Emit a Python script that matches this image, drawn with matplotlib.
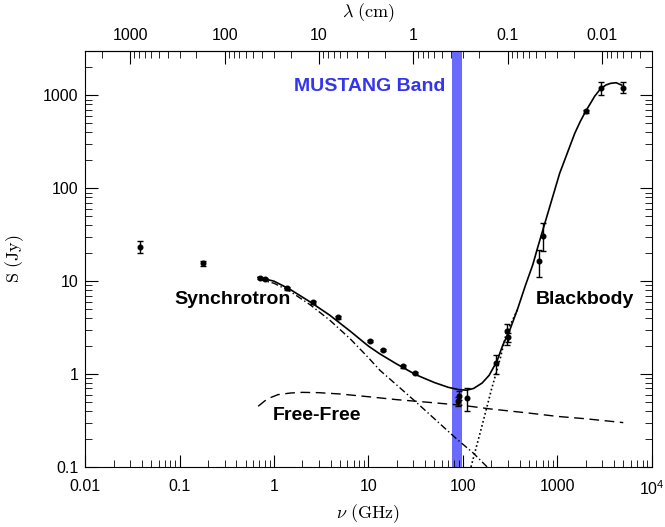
import numpy as np
import matplotlib
matplotlib.use("Agg")
import matplotlib.pyplot as plt
from matplotlib.ticker import FixedLocator, FixedFormatter, LogLocator, NullFormatter

plt.rcParams['font.family'] = ['Liberation Sans', 'DejaVu Sans']
plt.rcParams['mathtext.fontset'] = 'cm'

# measured flux densities (GHz, Jy) with lower / upper error bars
nu_pts = [0.038, 0.178, 0.71, 0.80, 1.37, 2.59, 4.76, 10.4, 14.2, 23.2, 31,
          88, 90, 110, 223, 290, 300, 637, 703, 2000, 2890, 4930]
s_pts = [23.5, 15.5, 10.8, 10.6, 8.4, 5.9, 4.1, 2.26, 1.81, 1.21, 1.02,
         0.51, 0.58, 0.55, 1.31, 2.9, 2.5, 16.4, 31, 675, 1190, 1210]
s_lo = [3.2, 0.8, 0.3, 0.3, 0.3, 0.2, 0.15, 0.05, 0.05, 0.04, 0.03,
        0.06, 0.06, 0.15, 0.31, 0.85, 0.3, 5.4, 10, 30, 170, 160]
s_hi = [3.8, 0.8, 0.3, 0.3, 0.3, 0.2, 0.15, 0.05, 0.05, 0.04, 0.03,
        0.06, 0.07, 0.16, 0.29, 0.6, 0.3, 5.1, 11, 30, 190, 190]

# model curves
nu_total = [0.68, 1.0, 1.47, 2.4, 3.9, 6.4, 10, 13.2, 20, 32, 50, 70, 90, 110,
            130, 160, 190, 230, 265, 314, 382, 460, 550, 620, 700, 850, 1060,
            1250, 1530, 1750, 2000, 2490, 2890, 3300, 3680, 4200, 4820]
s_total = [11.0, 10.0, 8.2, 6.0, 4.3, 2.9, 2.0, 1.65, 1.28, 0.98, 0.81, 0.72,
           0.68, 0.67, 0.70, 0.80, 0.97, 1.38, 2.05, 2.97, 5.1, 9.0, 15, 23,
           35, 68, 145, 226, 390, 523, 675, 980, 1190, 1300, 1350, 1370, 1290]

nu_sync = [0.68, 1.0, 1.47, 2.4, 3.9, 6.4, 10, 13.2, 20, 32.6, 50, 86, 130, 190]
s_sync = [10.5, 9.5, 7.8, 5.6, 3.8, 2.4, 1.5, 1.1, 0.76, 0.49, 0.33, 0.20,
          0.14, 0.095]

nu_ff = [0.68, 0.85, 1.1, 1.5, 2, 3, 5, 10, 20, 50, 100, 200, 500, 1000,
         2000, 5000]
s_ff = [0.45, 0.54, 0.60, 0.625, 0.635, 0.63, 0.61, 0.57, 0.53, 0.49, 0.46,
        0.42, 0.38, 0.35, 0.33, 0.30]

nu_bb = [122, 160, 200, 250, 290, 340, 382]
s_bb = [0.1, 0.28, 0.67, 1.5, 2.8, 3.9, 5.0]

band = (76, 98)

fig = plt.figure(figsize=(6.65, 5.27), dpi=100)
ax = fig.add_axes([0.128, 0.114, 0.852, 0.789])

ax.axvspan(band[0], band[1], color='#6a6aff', zorder=1, lw=0)

ax.plot(nu_total, s_total, color='black', lw=1.2, zorder=3)
ax.plot(nu_sync, s_sync, color='black', lw=1.0, dashes=(5, 2, 1, 2), zorder=3)
ax.plot(nu_ff, s_ff, color='black', lw=1.0, dashes=(7, 4), zorder=3)
ax.plot(nu_bb, s_bb, color='black', lw=1.2, dashes=(1, 1.5), zorder=3)

ax.errorbar(nu_pts, s_pts, yerr=[s_lo, s_hi], fmt='o', color='black',
            ms=3.3, capsize=2.5, elinewidth=1.0, capthick=1.0, zorder=4)

ax.set_xscale('log')
ax.set_yscale('log')
ax.set_xlim(0.01, 1e4)
ax.set_ylim(0.1, 3000)

ax.xaxis.set_major_locator(FixedLocator([0.01, 0.1, 1, 10, 100, 1000, 1e4]))
ax.xaxis.set_major_formatter(FixedFormatter(['0.01', '0.1', '1', '10', '100',
                                             '1000', r'$\mathregular{10^4}$']))
ax.xaxis.set_minor_locator(LogLocator(base=10, subs=np.arange(2, 10)))
ax.xaxis.set_minor_formatter(NullFormatter())
ax.yaxis.set_major_locator(FixedLocator([0.1, 1, 10, 100, 1000]))
ax.yaxis.set_major_formatter(FixedFormatter(['0.1', '1', '10', '100', '1000']))
ax.yaxis.set_minor_locator(LogLocator(base=10, subs=np.arange(2, 10)))
ax.yaxis.set_minor_formatter(NullFormatter())

ax.tick_params(which='both', direction='in', right=True, labelsize=11.5)
ax.tick_params(axis='x', which='both', top=False, pad=9)
ax.tick_params(axis='y', which='both', pad=5)
ax.tick_params(which='major', length=9)
ax.tick_params(which='minor', length=5)

top = ax.secondary_xaxis('top', functions=(lambda v: 30.0 / v, lambda l: 30.0 / l))
top.xaxis.set_major_locator(FixedLocator([1000, 100, 10, 1, 0.1, 0.01]))
top.xaxis.set_major_formatter(FixedFormatter(['1000', '100', '10', '1', '0.1', '0.01']))
top.xaxis.set_minor_locator(LogLocator(base=10, subs=np.arange(2, 10)))
top.xaxis.set_minor_formatter(NullFormatter())
top.tick_params(which='both', direction='in', labelsize=11.5, pad=6)
top.tick_params(which='major', length=9)
top.tick_params(which='minor', length=5)
top.set_xlabel(r'$\lambda\ \rm (cm)$', fontsize=13, labelpad=8)

ax.set_xlabel(r'$\nu\ \rm (GHz)$', fontsize=13, labelpad=3)
ax.set_ylabel(r'$\rm S\ (Jy)$', fontsize=13, labelpad=12)

ax.text(66, 1250, 'MUSTANG Band', color='#3535ee', fontsize=14,
        fontweight='bold', ha='right', va='center')
ax.text(0.36, 6.3, 'Synchrotron', fontsize=14, fontweight='bold',
        ha='center', va='center')
ax.text(1950, 6.3, 'Blackbody', fontsize=14, fontweight='bold',
        ha='center', va='center')
ax.text(2.85, 0.355, 'Free-Free', fontsize=14, fontweight='bold',
        ha='center', va='center')

fig.savefig('out.png', dpi=100)
